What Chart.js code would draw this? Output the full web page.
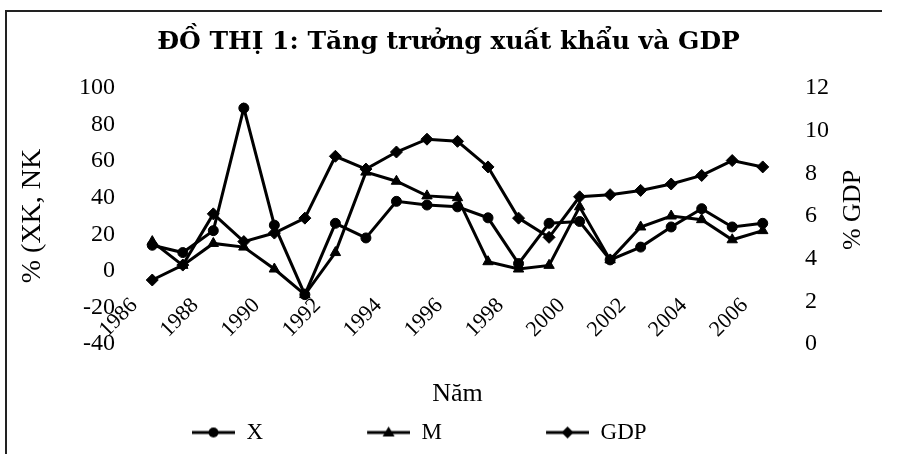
<!DOCTYPE html>
<html>
<head>
<meta charset="utf-8">
<script src="https://cdn.jsdelivr.net/npm/chart.js@4.4.1/dist/chart.umd.min.js"></script>
<style>
  body { margin: 0; background: #fff; }
  #wrap { position: relative; width: 897px; height: 454px; }
  #frame { position: absolute; left: 5px; top: 10px; width: 875px; height: 460px;
           border-top: 2px solid #222; border-left: 2px solid #222; }
  canvas { position: absolute; left: 0; top: 0; }
</style>
</head>
<body>
<div id="wrap">
  <div id="frame"></div>
  <canvas id="lineChart"></canvas>
</div>
<script>
// years on the category axis, only every other one gets a label
const years = ['1986','1987','1988','1989','1990','1991','1992','1993','1994','1995','1996',
               '1997','1998','1999','2000','2001','2002','2003','2004','2005','2006']
const tickYears = ['1986','1988','1990','1992','1994','1996','1998','2000','2002','2004','2006']

// export growth (X) and import growth (M), % - left axis
const xGrowth = [14, 10, 22, 89, 25, -13, 26, 18, 38, 36, 35, 29, 4, 26, 27, 6, 13, 24, 34, 24, 26]
const mGrowth = [16, 3, 15, 13, 1, -13, 10, 54, 49, 41, 40, 5, 1, 3, 35, 6, 24, 30, 28, 17, 22]
// GDP growth, % - right axis
const gdpGrowth = [3.0, 3.7, 6.1, 4.8, 5.2, 5.9, 8.8, 8.2, 9.0, 9.6, 9.5, 8.3, 5.9, 5.0, 6.9, 7.0, 7.2, 7.5, 7.9, 8.6, 8.3]

const serif = 'Liberation Serif'
const ink = '#000'

// little "line with marker in the middle" pictures for the legend (excel style)
function legendIcon(shape) {
  const c = document.createElement('canvas')
  c.width = 139; c.height = 16
  const g = c.getContext('2d')
  const cx = 117.5, cy = 8
  g.strokeStyle = ink; g.fillStyle = ink; g.lineWidth = 3
  g.beginPath(); g.moveTo(96, cy); g.lineTo(139, cy); g.stroke()
  g.beginPath()
  if (shape === 'circle') {
    g.arc(cx, cy, 5, 0, Math.PI * 2)
  } else if (shape === 'triangle') {
    g.moveTo(cx, cy - 6); g.lineTo(cx + 6, cy + 4); g.lineTo(cx - 6, cy + 4)
  } else {
    g.moveTo(cx, cy - 6); g.lineTo(cx + 6, cy); g.lineTo(cx, cy + 6); g.lineTo(cx - 6, cy)
  }
  g.closePath(); g.fill()
  return c
}
const icons = [legendIcon('circle'), legendIcon('triangle'), legendIcon('diamond')]

function series(label, data, style, radius, axis) {
  return {
    label, data, yAxisID: axis,
    borderColor: ink, backgroundColor: ink,
    borderWidth: 3, tension: 0,
    pointStyle: style, pointRadius: radius,
    pointBackgroundColor: ink, pointBorderColor: ink, pointBorderWidth: 1
  }
}

const extras = {
  id: 'extras',
  afterLayout(chart) {
    // legend row sits left of centre in the original
    chart.legend.left += 88
    chart.legend.right += 88
  },
  afterDraw(chart) {
    // right axis title reads bottom-to-top like the left one
    const s = chart.scales.y1, a = chart.chartArea
    const ctx = chart.ctx
    ctx.save()
    ctx.translate(s.left + 75, (a.top + a.bottom) / 2 - 6)
    ctx.rotate(-Math.PI / 2)
    ctx.font = '26px "' + serif + '"'
    ctx.fillStyle = ink
    ctx.textAlign = 'center'
    ctx.textBaseline = 'middle'
    ctx.fillText('% GDP', 0, 0)
    ctx.restore()
  }
}

const tickFont = { family: serif, size: 24 }
const ctx = document.getElementById('lineChart').getContext('2d')
new Chart(ctx, {
  type: 'line',
  data: {
    labels: years,
    datasets: [
      series('X', xGrowth, 'circle', 5, 'y'),
      series('M', mGrowth, 'triangle', 6, 'y'),
      series('GDP', gdpGrowth, 'rectRot', 6, 'y1')
    ]
  },
  options: {
    responsive: true,
    maintainAspectRatio: false,
    animation: false,
    layout: { padding: 0 },
    plugins: {
      title: {
        display: true,
        text: 'ĐỒ THỊ 1: Tăng trưởng xuất khẩu và GDP',
        color: ink,
        font: { family: 'DejaVu Serif', size: 25, weight: 'bold', lineHeight: 1.2 },
        padding: { top: 27, bottom: 31 }
      },
      legend: {
        position: 'bottom',
        align: 'start',
        labels: {
          color: ink,
          font: { family: serif, size: 23 },
          usePointStyle: true,
          pointStyleWidth: 139,
          padding: 8,
          generateLabels(chart) {
            const items = Chart.defaults.plugins.legend.labels.generateLabels(chart)
            items.forEach((it, i) => { it.pointStyle = icons[i] })
            return items
          }
        }
      },
      tooltip: { enabled: false }
    },
    scales: {
      // data axis: holds the title only
      x: {
        offset: true,
        grid: { display: false, drawTicks: false },
        border: { display: false },
        ticks: { display: false },
        title: {
          display: true, text: 'Năm', color: ink,
          font: { family: serif, size: 26 },
          padding: { top: 0, bottom: 3 }
        },
        afterFit(s) { s.height = 69 }
      },
      // year labels hang off the zero line, like excel's crossing axis
      x2: {
        type: 'category',
        labels: years,
        offset: true,
        position: { y: 0 },
        grid: { display: false, drawTicks: false },
        border: { display: false },
        ticks: {
          color: ink,
          font: { family: serif, size: 22 },
          autoSkip: false,
          minRotation: 45,
          maxRotation: 45,
          padding: 22,
          labelOffset: -18,
          callback(v, i) { return tickYears.includes(years[i]) ? years[i] : '' }
        }
      },
      y: {
        position: 'left',
        min: -40, max: 100,
        grid: { display: false, drawTicks: false },
        border: { display: false },
        ticks: { stepSize: 20, color: ink, font: tickFont, padding: 22 },
        title: {
          display: true, text: '% (XK, NK', color: ink,
          font: { family: serif, size: 28 },
          padding: { top: 16, bottom: 0 }
        },
        afterFit(s) { s.width = 137 }
      },
      y1: {
        position: 'right',
        min: 0, max: 12,
        grid: { display: false, drawTicks: false },
        border: { display: false },
        ticks: { stepSize: 2, color: ink, font: tickFont, padding: 27 },
        afterFit(s) { s.width = 119 }
      }
    }
  },
  plugins: [extras]
})
</script>
</body>
</html>
